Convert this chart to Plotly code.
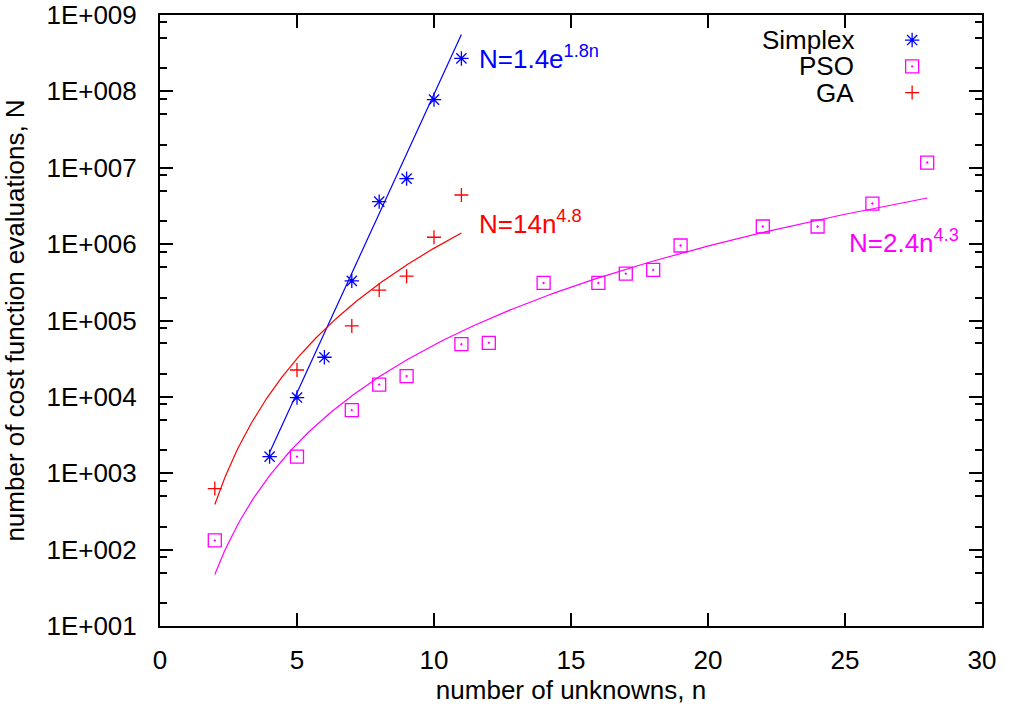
import numpy as np
import plotly.graph_objects as go

# ---- data ----
simplex_n = [4, 5, 6, 7, 8, 9, 10, 11]
simplex_N = [1650, 9800, 33000, 3.3e5, 3.6e6, 7.2e6, 7.8e7, 2.7e8]

pso_n = [2, 5, 7, 8, 9, 11, 12, 14, 16, 17, 18, 19, 22, 24, 26, 28]
pso_N = [132, 1650, 6700, 1.45e4, 1.87e4, 4.9e4, 5.1e4, 3.1e5, 3.1e5,
         4.1e5, 4.6e5, 9.6e5, 1.7e6, 1.7e6, 3.4e6, 1.17e7]

ga_n = [2, 5, 7, 8, 9, 10, 11]
ga_N = [630, 2.25e4, 8.5e4, 2.5e5, 3.8e5, 1.23e6, 4.4e6]

# fitted models shown on the chart
simplex_fit = dict(a=1.4, b=1.8, n_range=[4, 11])    # N = a*exp(b*n)
ga_fit = dict(a=14, p=4.8, n_range=[2, 11])           # N = a*n^p
pso_fit = dict(a=2.4, p=4.3, n_range=[2, 28])         # N = a*n^p

legend_names = ["Simplex", "PSO", "GA"]
x_ticks = [0, 5, 10, 15, 20, 25, 30]
y_ticks = [10**k for k in range(1, 10)]
y_ticktext = ["1E+%03d" % k for k in range(1, 10)]
y_minor = [m * 10**k for k in range(1, 9) for m in (2, 5, 8)]

BLUE, MAGENTA, RED = "#0000ff", "#ff00ff", "#ff0000"
FONT = "Liberation Sans, Arial, Helvetica, sans-serif"
FS = 26

fig = go.Figure()

# fit curves
ns = np.linspace(*simplex_fit["n_range"], 200)
fig.add_trace(go.Scatter(x=ns, y=simplex_fit["a"] * np.exp(simplex_fit["b"] * ns),
                         mode="lines", line=dict(color=BLUE, width=1.2), showlegend=False))
ng = np.linspace(*ga_fit["n_range"], 200)
fig.add_trace(go.Scatter(x=ng, y=ga_fit["a"] * ng ** ga_fit["p"],
                         mode="lines", line=dict(color=RED, width=1.2), showlegend=False))
npso = np.linspace(*pso_fit["n_range"], 300)
fig.add_trace(go.Scatter(x=npso, y=pso_fit["a"] * npso ** pso_fit["p"],
                         mode="lines", line=dict(color=MAGENTA, width=1.2), showlegend=False))

# data points
mk_simplex = dict(symbol="asterisk-open", size=12, color=BLUE, line=dict(color=BLUE, width=1.3))
mk_pso = dict(symbol="square-open-dot", size=13, color=MAGENTA, line=dict(color=MAGENTA, width=1.3))
mk_ga = dict(symbol="cross-thin-open", size=10, color=RED, line=dict(color=RED, width=1.3))

fig.add_trace(go.Scatter(x=simplex_n, y=simplex_N, mode="markers", marker=mk_simplex,
                         name=legend_names[0], showlegend=False))
fig.add_trace(go.Scatter(x=pso_n, y=pso_N, mode="markers", marker=mk_pso,
                         name=legend_names[1], showlegend=False))
fig.add_trace(go.Scatter(x=ga_n, y=ga_N, mode="markers", marker=mk_ga,
                         name=legend_names[2], showlegend=False))

# gnuplot-style key: text right-aligned, sample to the right
key_y = [0.959, 0.916, 0.873]
for nm, mk, ky in zip(legend_names, [mk_simplex, mk_pso, mk_ga], key_y):
    fig.add_trace(go.Scatter(x=[0.915], y=[ky], mode="markers", marker=mk,
                             xaxis="x2", yaxis="y2", showlegend=False, hoverinfo="skip"))
    fig.add_annotation(x=0.847, y=ky, xref="paper", yref="paper", text=nm,
                       showarrow=False, xanchor="right", yanchor="middle",
                       font=dict(family=FONT, size=FS, color="black"))

# formula labels
labels = [
    ("N=1.4e<sup>1.8n</sup>", BLUE, 0.386, 0.931),
    ("N=14n<sup>4.8</sup>", RED, 0.386, 0.661),
    ("N=2.4n<sup>4.3</sup>", MAGENTA, 0.836, 0.630),
]
for txt, col, lx, ly in labels:
    fig.add_annotation(x=lx, y=ly, xref="paper", yref="paper", text=txt, showarrow=False,
                       xanchor="left", yanchor="middle",
                       font=dict(family=FONT, size=FS, color=col))

tick_common = dict(ticks="inside", ticklen=13, tickwidth=1.5, tickcolor="black",
                   showgrid=False, zeroline=False, automargin=False)

fig.update_layout(
    width=1011, height=711,
    margin=dict(l=160, r=29, t=15, b=85),
    paper_bgcolor="white", plot_bgcolor="white",
    showlegend=False,
    xaxis=dict(range=[0, 30], tickvals=x_ticks, ticklabelstandoff=10,
               showline=True, linecolor="black", linewidth=2, mirror=True,
               tickfont=dict(family=FONT, size=FS, color="black"),
               title=dict(text="number of unknowns, n", standoff=5,
                          font=dict(family=FONT, size=FS, color="black")),
               **tick_common),
    yaxis=dict(type="log", range=[1, 9], tickvals=y_ticks, ticktext=y_ticktext,
               ticklabelstandoff=16,
               showline=True, linecolor="black", linewidth=2, mirror=True,
               tickfont=dict(family=FONT, size=FS, color="black"),
               minor=dict(tickvals=y_minor, ticks="inside", ticklen=7, tickwidth=1.5,
                          tickcolor="black", showgrid=False),
               title=dict(text="number of cost function evaluations, N", standoff=18,
                          font=dict(family=FONT, size=FS, color="black")),
               **tick_common),
    # key sample axes (unit square over the plot area)
    xaxis2=dict(overlaying="x", range=[0, 1], visible=False),
    yaxis2=dict(overlaying="y", range=[0, 1], visible=False),
    # gnuplot mirrored ticks on the top and right borders
    xaxis3=dict(overlaying="x", side="top", range=[0, 30], tickvals=x_ticks,
                showticklabels=False, showline=True, linecolor="black", linewidth=2,
                **tick_common),
    yaxis3=dict(overlaying="y", side="right", type="log", range=[1, 9], tickvals=y_ticks,
                showticklabels=False, showline=True, linecolor="black", linewidth=2,
                minor=dict(tickvals=y_minor, ticks="inside", ticklen=7, tickwidth=1.5,
                           tickcolor="black", showgrid=False),
                **tick_common),
)

# empty trace so the mirrored-tick axes are drawn
fig.add_trace(go.Scatter(x=[None], y=[None], xaxis="x3", yaxis="y3",
                         mode="markers", showlegend=False, hoverinfo="skip"))

fig.write_html("out.html", config={"displayModeBar": False},
               post_script="document.body.style.margin='0';document.body.style.overflow='hidden';")
